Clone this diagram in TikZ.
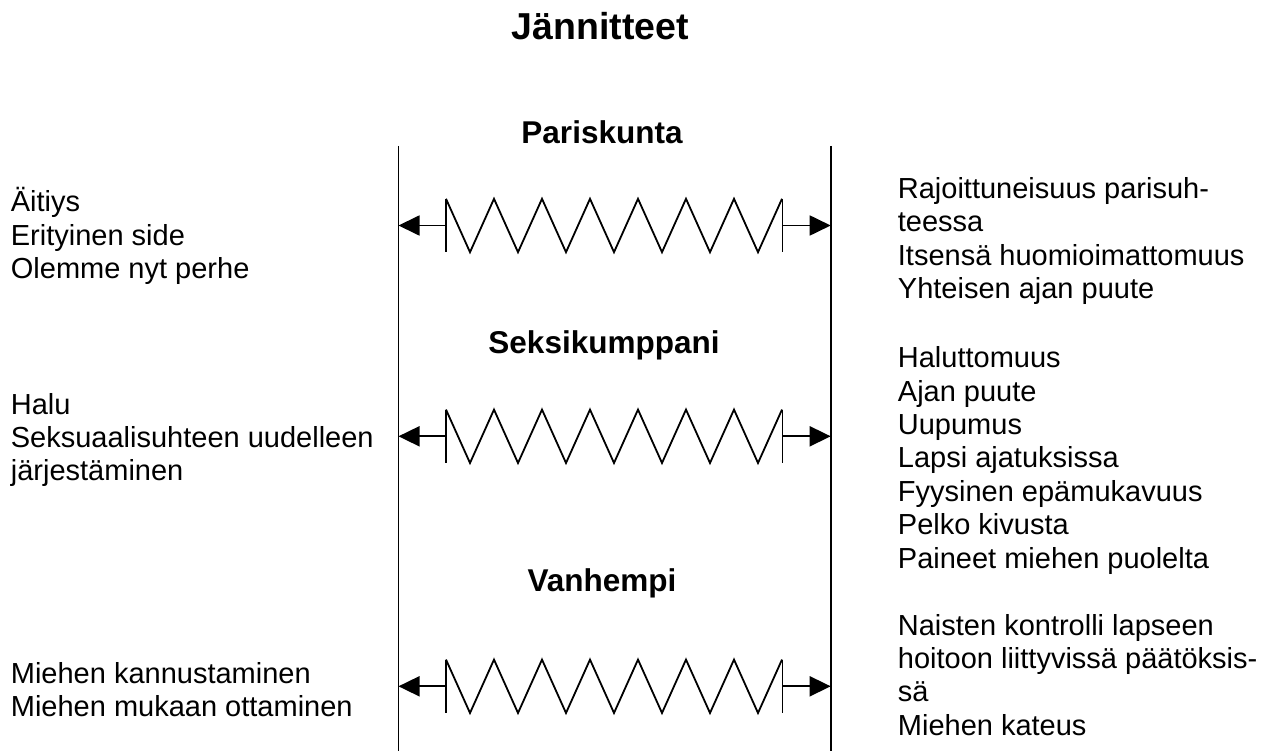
\documentclass[tikz,border=0pt]{standalone}
\usepackage{fontspec}
\setmainfont{Liberation Sans}
\usetikzlibrary{arrows.meta}
% several lines, left aligned; the box baseline is the first line's baseline
\newcommand\textlines[1]{\vtop{\halign{##\hfil\cr#1\crcr}}}
\begin{document}
\begin{tikzpicture}[x=1pt,y=-1pt,line width=1.8pt,
  txt/.style={inner sep=0pt,anchor=base west,font=\fontsize{29}{33.4}\selectfont},
  lbl/.style={inner sep=0pt,anchor=base,font=\fontsize{31.5}{36}\selectfont\bfseries},
  pull/.style={-{Triangle[length=21pt,width=20pt]}}]
\useasboundingbox (0,0) rectangle (1279,751);

% title
\node[inner sep=0pt,anchor=base,font=\fontsize{37.5}{44}\selectfont\bfseries] (title) at (600.5,39.3) {Jännitteet};

% the two poles
\coordinate (Ltop) at (398.5,146);
\coordinate (Lbot) at (398.5,751);
\coordinate (Rtop) at (830.7,146);
\coordinate (Rbot) at (830.7,751);
\draw (Ltop) -- (Lbot);
\draw (Rtop) -- (Rbot);

% a spring stretched between the poles: #1 name, #2 centre y
\newcommand\spring[2]{%
  \coordinate (#1la) at (446,{#2-26.7});
  \coordinate (#1lb) at (446,{#2+26.7});
  \coordinate (#1lm) at (446,#2);
  \coordinate (#1ra) at (782.5,{#2-26.7});
  \coordinate (#1rb) at (782.5,{#2+26.7});
  \coordinate (#1rm) at (782.5,#2);
  \draw (#1la) -- (#1lb);
  \draw (#1ra) -- (#1rb);
  \draw[line join=miter] (#1la)
    \foreach \i in {0,...,6} { -- ({470+48*\i},{#2+26.7}) -- ({494+48*\i},{#2-26.7}) };
  \draw[pull] (#1lm) -- (#1lm -| Ltop);
  \draw[pull] (#1rm) -- (#1rm -| Rtop);
}
\spring{sa}{225.5}
\spring{sb}{436.3}
\spring{sc}{686.3}

% role labels
\node[lbl] (pari) at (602,143.3) {Pariskunta};
\node[lbl] (seksi) at (604,353.3) {Seksikumppani};
\node[lbl] (vanh) at (602,591.7) {Vanhempi};

% left side
\node[txt] (l1) at (10,211.7) {\textlines{Äitiys\cr Erityinen side\cr Olemme nyt perhe}};
\node[txt] (l2) at (10,414) {\textlines{Halu\cr Seksuaalisuhteen uudelleen\cr järjestäminen}};
\node[txt] (l3) at (10,683.3) {\textlines{Miehen kannustaminen\cr Miehen mukaan ottaminen}};

% right side
\node[txt] (r1) at (897,198.3) {\textlines{Rajoittuneisuus parisuh-\cr teessa\cr Itsensä huomioimattomuus\cr Yhteisen ajan puute}};
\node[txt] (r2) at (897,367.7) {\textlines{Haluttomuus\cr Ajan puute\cr Uupumus\cr Lapsi ajatuksissa\cr Fyysinen epämukavuus\cr Pelko kivusta\cr Paineet miehen puolelta}};
\node[txt] (r3) at (897,635) {\textlines{Naisten kontrolli lapseen\cr hoitoon liittyvissä päätöksis-\cr sä\cr Miehen kateus}};
\end{tikzpicture}
\end{document}
